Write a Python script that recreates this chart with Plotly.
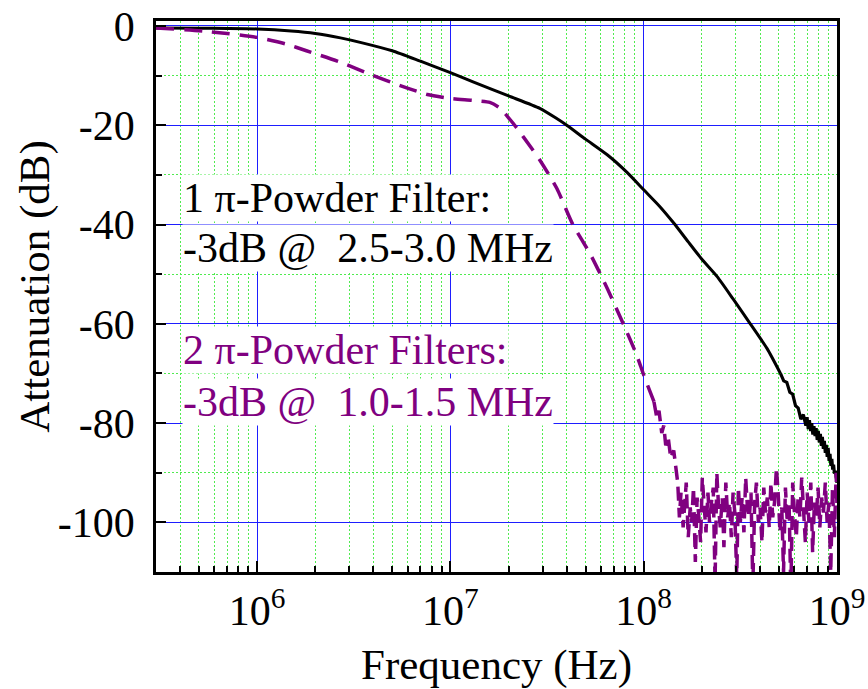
import numpy as np
import plotly.graph_objects as go

# ---- 1 pi-powder filter (black, solid) ----
f1_smooth_mhz = [0.3, 0.5, 0.7, 1.0, 1.5, 2.0, 2.7, 3.5, 5.0, 7.0,
                 10, 13, 20, 29, 35, 40, 50, 65, 82, 100,
                 122, 143, 170, 200, 240, 290, 356, 435, 510]
a1_smooth_db = [-0.4, -0.45, -0.5, -0.6, -1.0, -1.5, -2.4, -3.4, -5.0, -7.1,
                -9.4, -11.2, -14.1, -16.6, -18.5, -20.0, -22.8, -26.0, -29.5, -33.0,
                -36.5, -39.7, -43.5, -47.0, -50.5, -55.0, -60.0, -65.0, -70.0]
f1_noisy_mhz = [510, 530, 550, 570, 590, 610, 630, 650, 670, 690,
                700, 710, 720, 730, 740, 750, 760, 770, 780, 790,
                800, 810, 820, 830, 840, 850, 860, 870, 880, 890,
                900, 910, 920, 930, 940, 950, 960, 970, 980, 990, 1000]
a1_noisy_db = [-70.0, -71.5, -71.8, -73.8, -74.2, -76.5, -77.0, -79.2, -78.3, -80.5,
               -78.8, -81.2, -79.4, -81.6, -80.0, -82.3, -80.6, -82.6, -81.0, -83.4,
               -81.6, -83.9, -82.2, -84.6, -82.8, -85.2, -83.6, -86.0, -84.4, -86.8,
               -85.0, -87.6, -86.2, -88.6, -87.2, -89.4, -88.4, -90.2, -89.6, -91.4, -92.0]

# ---- 2 pi-powder filters (purple, dashed) ----
f2_smooth_mhz = [0.3, 0.55, 1.0, 1.4, 1.8, 2.7, 4.0, 5.5, 7.6, 10,
                 13, 16, 18, 20, 22, 24, 29, 35.5, 43, 53,
                 65, 79, 92, 100, 113]
a2_smooth_db = [-0.4, -1.1, -2.3, -3.6, -5.0, -7.3, -10.0, -12.0, -13.8, -14.6,
                -15.0, -15.4, -16.5, -18.5, -20.5, -22.5, -27.0, -32.7, -40.0, -46.0,
                -53.0, -60.3, -66.3, -70.3, -75.7]
f2_noise_mhz = [113, 117, 120, 124, 127, 130, 134, 138, 143, 146,
                150, 153, 156, 160, 163, 166, 170, 174, 177, 181,
                185, 189, 193, 197, 201, 206, 210, 215, 219, 224,
                229, 234, 239, 244, 249, 255, 260, 266, 272, 278,
                284, 290, 296, 303, 309, 316, 323, 330, 337, 344,
                352, 359, 367, 375, 383, 392, 400, 409, 418, 427,
                436, 446, 455, 465, 475, 486, 496, 507, 518, 529,
                541, 553, 565, 577, 590, 602, 616, 629, 643, 657,
                671, 686, 701, 716, 732, 748, 764, 781, 798, 815,
                833, 851, 870, 889, 908, 928, 948, 969, 990, 1000]
a2_noise_db = [-75.7, -79.0, -77.5, -82.0, -80.5, -84.5, -83.0, -87.0, -85.5, -88.0,
               -92, -99, -94, -101, -96, -92, -103, -97, -100, -93,
               -108, -95, -99, -104, -91, -98, -102, -94, -100, -96,
               -93, -112, -90, -97, -101, -95, -105, -92, -99, -96,
               -103, -94, -98, -111, -93, -100, -95, -102, -91, -97,
               -99, -94, -113, -96, -92, -100, -97, -104, -93, -98,
               -95, -101, -92, -99, -96, -89, -94, -102, -97, -110,
               -93, -100, -96, -114, -92, -98, -103, -95, -99, -91,
               -97, -104, -94, -100, -92, -106, -96, -99, -93, -101,
               -95, -98, -92, -100, -96, -110, -93, -103, -90, -97]

x_tick_vals = [1e6, 1e7, 1e8, 1e9]
x_tick_text = ["10<sup>6</sup>", "10<sup>7</sup>", "10<sup>8</sup>", "10<sup>9</sup>"]
y_tick_vals = [0, -20, -40, -60, -80, -100]
y_tick_text = ["0", "-20", "-40", "-60", "-80", "-100"]

BLACK = "#000000"
PURPLE = "#800080"
MAJOR_GRID = "rgb(30,30,255)"
MINOR_GRID = "rgb(80,235,80)"
FONT = "Liberation Serif"

def hz(mhz):
    return [v * 1e6 for v in mhz]

fig = go.Figure()
fig.add_trace(go.Scatter(x=hz(f1_smooth_mhz), y=a1_smooth_db, mode="lines",
                         line=dict(color=BLACK, width=3, shape="spline", smoothing=0.6)))
fig.add_trace(go.Scatter(x=hz(f1_noisy_mhz), y=a1_noisy_db, mode="lines",
                         line=dict(color=BLACK, width=3.2)))
fig.add_trace(go.Scatter(x=hz(f2_smooth_mhz), y=a2_smooth_db, mode="lines",
                         line=dict(color=PURPLE, width=3.5, dash="18px,10px",
                                   shape="spline", smoothing=0.6)))
fig.add_trace(go.Scatter(x=hz(f2_noise_mhz), y=a2_noise_db, mode="lines",
                         line=dict(color=PURPLE, width=3.5, dash="14px,7px")))

minor_x = [k * 10 ** e for e in range(5, 9) for k in range(2, 10)]

fig.update_xaxes(type="log", range=[np.log10(3e5), 9], automargin=False,
                 tickvals=x_tick_vals, ticktext=x_tick_text,
                 ticks="inside", ticklen=11, tickwidth=2, tickcolor=BLACK,
                 ticklabelstandoff=0,
                 tickfont=dict(family=FONT, size=42, color=BLACK),
                 showline=True, linecolor=BLACK, linewidth=2.5, mirror=True,
                 showgrid=True, gridcolor=MAJOR_GRID, gridwidth=1.2, zeroline=False,
                 minor=dict(tickvals=minor_x, ticks="inside", ticklen=6, tickwidth=2,
                            tickcolor=BLACK, showgrid=True, gridcolor=MINOR_GRID,
                            griddash="2px,2px", gridwidth=1))
fig.update_yaxes(range=[-110, 1], automargin=False,
                 tickvals=y_tick_vals, ticktext=y_tick_text,
                 ticks="inside", ticklen=10, tickwidth=2, tickcolor=BLACK,
                 ticklabelstandoff=10,
                 tickfont=dict(family=FONT, size=42, color=BLACK),
                 showline=True, linecolor=BLACK, linewidth=2.5, mirror=True,
                 showgrid=True, gridcolor=MAJOR_GRID, gridwidth=1.2, zeroline=False,
                 minor=dict(dtick=10, ticks="inside", ticklen=6, tickwidth=2,
                            tickcolor=BLACK, showgrid=True, gridcolor=MINOR_GRID,
                            griddash="2px,2px", gridwidth=1))

ann_font = dict(family=FONT, size=42)
labels = [
    ("1 \u03c0-Powder Filter:", -34.7, BLACK),
    ("-3dB @\u00a0 2.5-3.0 MHz", -44.8, BLACK),
    ("2 \u03c0-Powder Filters:", -65.3, PURPLE),
    ("-3dB @\u00a0 1.0-1.5 MHz", -75.8, PURPLE),
]
for txt, yv, col in labels:
    fig.add_annotation(text=txt, xref="paper", yref="y", x=0.038, y=yv,
                       xanchor="left", yanchor="middle", showarrow=False,
                       bgcolor="white", borderpad=0,
                       font=dict(ann_font, color=col))

fig.add_annotation(text="Frequency (Hz)", xref="paper", yref="paper",
                   x=0.5, y=-0.169, xanchor="center", yanchor="middle",
                   showarrow=False, font=dict(family=FONT, size=43, color=BLACK))
fig.add_annotation(text="Attenuation (dB)", xref="paper", yref="paper",
                   x=-0.178, y=0.519, xanchor="center", yanchor="middle",
                   textangle=-90, showarrow=False,
                   font=dict(family=FONT, size=43, color=BLACK))

fig.update_layout(width=868, height=689,
                  margin=dict(l=156, r=31, t=21, b=117),
                  paper_bgcolor="white", plot_bgcolor="white",
                  showlegend=False,
                  font=dict(family=FONT, size=42, color=BLACK))

fig.write_html("out.html")
